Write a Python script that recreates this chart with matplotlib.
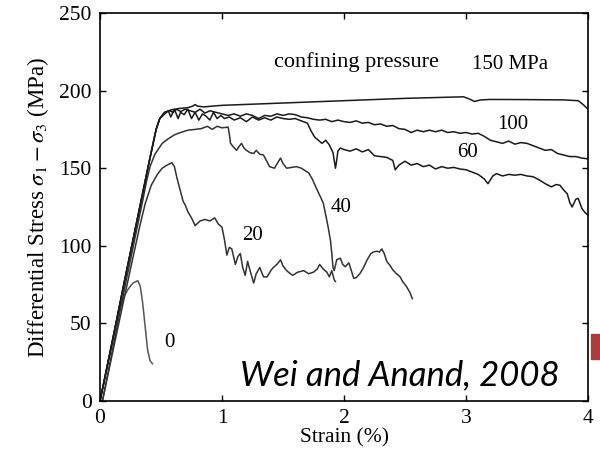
import numpy as np
import matplotlib
matplotlib.use("Agg")
import matplotlib.pyplot as plt
from matplotlib.patches import Rectangle

plt.rcParams['font.family'] = ['Liberation Serif', 'DejaVu Serif']
plt.rcParams['mathtext.fontset'] = 'stix'

# --- datos (deformacion %, esfuerzo diferencial MPa) ---
curve_0 = [(0, 0), (0.05, 19), (0.10, 38), (0.15, 56), (0.19, 66), (0.23, 72),
           (0.27, 76), (0.31, 77.5), (0.33, 74), (0.35, 63), (0.37, 48),
           (0.39, 33), (0.41, 26), (0.43, 24)]

curve_20 = [(0.02, 0), (0.10, 30), (0.20, 67), (0.28, 96), (0.33, 114), (0.37, 127),
            (0.42, 139), (0.47, 146), (0.51, 150), (0.55, 152), (0.59, 153.5),
            (0.61, 151), (0.63, 144), (0.66, 135), (0.68, 129), (0.70, 126),
            (0.72, 122), (0.75, 118), (0.78, 113), (0.82, 116), (0.86, 117),
            (0.90, 116), (0.94, 118), (0.97, 114), (1.00, 112), (1.02, 104),
            (1.04, 94), (1.06, 99), (1.08, 98), (1.11, 88), (1.13, 93), (1.15, 95),
            (1.17, 86), (1.19, 81), (1.21, 90), (1.23, 84), (1.26, 76), (1.28, 82),
            (1.31, 86), (1.34, 80), (1.37, 80), (1.40, 84), (1.42, 86), (1.45, 88),
            (1.48, 91), (1.50, 87), (1.53, 84), (1.56, 82), (1.58, 81), (1.62, 83),
            (1.67, 84), (1.71, 82), (1.75, 83), (1.78, 85), (1.80, 88), (1.83, 85),
            (1.86, 83), (1.88, 80), (1.90, 84), (1.92, 78), (1.93, 77)]

curve_40 = [(0.02, 0), (0.10, 32), (0.20, 72), (0.30, 110), (0.35, 129), (0.38, 141),
            (0.41, 151), (0.45, 159), (0.51, 166), (0.56, 169), (0.61, 171.5),
            (0.66, 173), (0.72, 174.5), (0.78, 175), (0.83, 175.5), (0.88, 177),
            (0.92, 175), (0.96, 177), (1.00, 176), (1.05, 176.5), (1.06, 172),
            (1.07, 166), (1.09, 164), (1.12, 161.5), (1.14, 164), (1.16, 166),
            (1.18, 163), (1.20, 161.5), (1.23, 160), (1.26, 159.5), (1.28, 161.5),
            (1.31, 159), (1.34, 158.5), (1.37, 154), (1.39, 151), (1.43, 150),
            (1.46, 154), (1.48, 156.5), (1.50, 153), (1.53, 150), (1.57, 150.5),
            (1.61, 151), (1.65, 150), (1.68, 148.5), (1.71, 147), (1.74, 143),
            (1.78, 136), (1.81, 131), (1.83, 127.5), (1.85, 120), (1.87, 112),
            (1.89, 103), (1.90, 95), (1.91, 86), (1.92, 84), (1.94, 91), (1.97, 92),
            (1.99, 88), (2.01, 86.5), (2.04, 89), (2.06, 84), (2.08, 79), (2.10, 79.5),
            (2.13, 82), (2.16, 86), (2.19, 91), (2.22, 95), (2.24, 96), (2.27, 96.5),
            (2.29, 96), (2.31, 98), (2.33, 95), (2.35, 90), (2.38, 87), (2.40, 84.5),
            (2.43, 82), (2.46, 80), (2.48, 77), (2.51, 74), (2.54, 70), (2.56, 66)]

curve_60 = [(0, 0), (0.10, 38), (0.20, 77), (0.30, 115), (0.40, 153), (0.46, 175),
            (0.49, 182), (0.53, 185), (0.56, 187), (0.58, 183), (0.61, 188),
            (0.64, 182), (0.66, 186), (0.69, 184.5), (0.72, 188), (0.75, 182),
            (0.78, 186), (0.81, 181), (0.84, 185), (0.87, 183.5), (0.90, 181),
            (0.93, 186), (0.96, 182), (0.99, 184), (1.02, 182), (1.06, 183),
            (1.10, 181), (1.15, 182.5), (1.20, 180), (1.25, 183), (1.30, 181),
            (1.35, 182.5), (1.40, 181), (1.45, 183), (1.50, 182), (1.55, 181.5),
            (1.60, 182), (1.65, 180.5), (1.70, 179), (1.73, 174), (1.76, 170),
            (1.79, 168), (1.82, 166), (1.85, 168), (1.88, 165), (1.91, 160),
            (1.93, 150), (1.94, 155), (1.95, 161), (1.97, 163), (2.00, 162),
            (2.05, 161), (2.10, 162.5), (2.15, 160.5), (2.20, 162), (2.25, 158),
            (2.30, 157.5), (2.35, 157), (2.40, 155), (2.42, 149), (2.45, 152),
            (2.50, 154.5), (2.55, 152), (2.60, 153), (2.65, 151), (2.70, 152),
            (2.75, 149.5), (2.80, 151), (2.85, 150), (2.90, 150.5), (2.95, 149.5),
            (3.00, 149), (3.05, 147.5), (3.10, 146), (3.15, 143), (3.18, 140),
            (3.22, 145), (3.25, 146.5), (3.30, 145), (3.35, 146), (3.40, 145.5),
            (3.45, 146), (3.50, 145), (3.55, 144.5), (3.60, 142.5), (3.65, 140),
            (3.70, 138), (3.74, 139.5), (3.77, 139), (3.80, 136), (3.83, 133.5),
            (3.85, 128), (3.87, 125), (3.90, 130), (3.92, 130.5), (3.95, 124),
            (3.98, 121), (4.00, 120)]

curve_100 = [(0, 0), (0.10, 38), (0.20, 77), (0.30, 115), (0.40, 153), (0.46, 175),
             (0.49, 182), (0.53, 186), (0.57, 187), (0.60, 186), (0.63, 188),
             (0.66, 186.5), (0.70, 188), (0.74, 187), (0.78, 186), (0.82, 188),
             (0.86, 185.5), (0.90, 187), (0.95, 186), (1.00, 185), (1.05, 184),
             (1.10, 185), (1.15, 183.5), (1.20, 185), (1.25, 184), (1.30, 182),
             (1.35, 184), (1.40, 183.5), (1.45, 185), (1.50, 184), (1.55, 185),
             (1.60, 184.5), (1.65, 183), (1.70, 182.5), (1.75, 181.5), (1.80, 181),
             (1.85, 181.5), (1.90, 180), (1.95, 181), (2.00, 180), (2.05, 179.5),
             (2.10, 180.5), (2.15, 179), (2.20, 179.5), (2.25, 178), (2.30, 178.5),
             (2.35, 177), (2.40, 177.5), (2.45, 175.5), (2.50, 175), (2.55, 173),
             (2.60, 174.5), (2.65, 173.5), (2.70, 174.5), (2.75, 173.5), (2.80, 174.5),
             (2.85, 173), (2.90, 173.5), (2.95, 172.5), (3.00, 173), (3.05, 172),
             (3.10, 172.5), (3.15, 170.5), (3.20, 168), (3.25, 167), (3.30, 166),
             (3.35, 167.5), (3.40, 165.5), (3.45, 166.5), (3.50, 166), (3.55, 164.5),
             (3.60, 163), (3.65, 161.5), (3.70, 162), (3.75, 159.5), (3.80, 158.5),
             (3.85, 157.5), (3.90, 157.5), (3.95, 156.5), (4.00, 156)]

curve_150 = [(0, 0), (0.10, 38), (0.20, 77), (0.30, 115), (0.40, 153), (0.46, 175),
             (0.49, 182), (0.53, 186), (0.58, 187.5), (0.65, 188.5), (0.72, 189),
             (0.76, 190), (0.78, 191), (0.80, 190), (0.85, 189.5), (0.92, 190),
             (1.00, 190.5), (1.50, 192), (2.00, 193.5), (2.50, 195), (2.98, 196),
             (3.03, 194.5), (3.07, 193), (3.12, 194), (3.20, 194.3), (3.50, 194.2),
             (3.80, 194), (3.92, 193.5), (3.96, 191), (4.00, 188)]

curves = [curve_0, curve_20, curve_40, curve_60, curve_100, curve_150]
curve_colors = ['#555555', '#333333', '#333333', '#1a1a1a', '#1a1a1a', '#1a1a1a']

# etiquetas de presion de confinamiento: (texto, x, y)
labels = [('0', 0.57, 37.7), ('20', 1.25, 106.4), ('40', 1.98, 124.7),
          ('60', 3.01, 160.1), ('100', 3.38, 178.2), ('150 MPa', 3.36, 216.5),
          ('confining pressure', 2.10, 218.4)]

x_ticks = [0, 1, 2, 3, 4]
y_ticks = [0, 50, 100, 150, 200, 250]

fig = plt.figure(figsize=(6, 4.55), dpi=100)
ax = fig.add_axes([100 / 600, 1 - 401 / 455, 488 / 600, 388 / 455])

for c, col in zip(curves, curve_colors):
    xy = np.array(c)
    ax.plot(xy[:, 0], xy[:, 1], color=col, lw=1.1)

for txt, x, y in labels:
    ax.text(x, y, txt, ha='center', va='center',
            fontsize=16 if txt.startswith('conf') else 15)

ax.text(1.148, 10.3, 'Wei and Anand, 2008', ha='left', va='baseline',
        fontsize=25, style='italic', family=['Lato', 'DejaVu Sans'])

ax.set_xlim(0, 4)
ax.set_ylim(0, 250)
ax.set_xticks(x_ticks)
ax.set_yticks(y_ticks)
ax.tick_params(direction='in', top=True, right=True, length=4, width=1,
               labelsize=15.5, pad=6)
ax.tick_params(axis='x', labeltop=False)
ax.tick_params(axis='y', labelright=False)
for s in ax.spines.values():
    s.set_linewidth(1.2)

ax.set_xlabel('Strain (%)', fontsize=15.5, labelpad=0)
ax.set_ylabel(r'Differential Stress $\sigma_1 - \sigma_3$ (MPa)', fontsize=16.5, labelpad=6)

# resto de la flecha roja del borde derecho
fig.patches.append(Rectangle((591 / 600, 1 - 359 / 455), 9 / 600, 25 / 455,
                             transform=fig.transFigure, color='#b23a3a', zorder=5))

fig.savefig('out.png', dpi=100)
